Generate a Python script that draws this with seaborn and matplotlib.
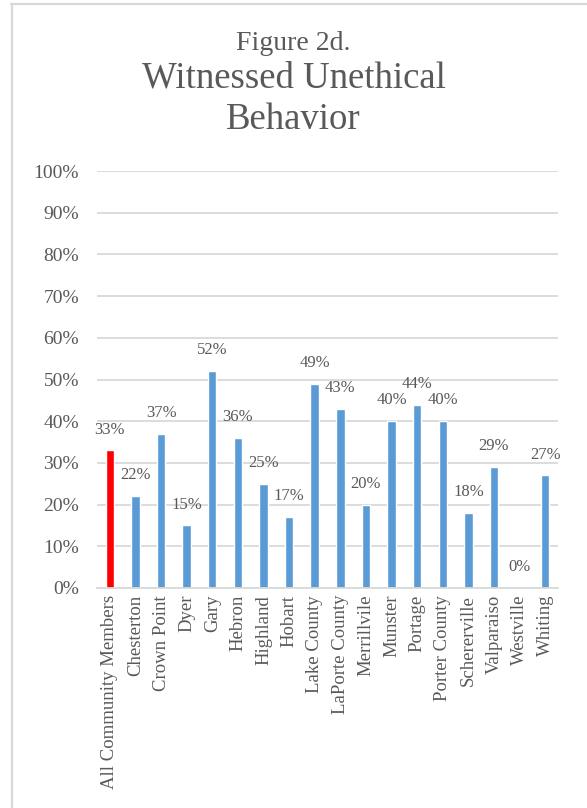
import matplotlib
matplotlib.use("Agg")
import matplotlib.pyplot as plt
from matplotlib.lines import Line2D
from matplotlib.ticker import FuncFormatter, MultipleLocator
import seaborn as sns
import pandas as pd

categories = ["All Community Members", "Chesterton", "Crown Point", "Dyer", "Gary",
              "Hebron", "Highland", "Hobart", "Lake County", "LaPorte County",
              "Merrillvile", "Munster", "Portage", "Porter County", "Schererville",
              "Valparaiso", "Westville", "Whiting"]
values = [33, 22, 37, 15, 52, 36, 25, 17, 49, 43, 20, 40, 44, 40, 18, 29, 0, 27]

title_top = "Figure 2d."
title_line1 = "Witnessed Unethical"
title_line2 = "Behavior"

BLUE = "#5B9BD5"
RED = "#FF0000"
TEXT = "#595959"
GRID = "#D9D9D9"

sns.set_theme(style="white")
plt.rcParams["font.family"] = ["Liberation Serif", "DejaVu Serif"]

df = pd.DataFrame({"category": categories, "value": values})
palette = {c: (RED if i == 0 else BLUE) for i, c in enumerate(categories)}

W, H = 587, 808
fig = plt.figure(figsize=(W / 100, H / 100), dpi=100)
ax = fig.add_axes([97 / W, (H - 588) / H, (558 - 97) / W, (588 - 171) / H])

sns.barplot(data=df, x="category", y="value", hue="category", palette=palette,
            width=0.33, legend=False, ax=ax, saturation=1)

ax.set_ylim(0, 100)
ax.yaxis.set_major_locator(MultipleLocator(10))
ax.yaxis.set_major_formatter(FuncFormatter(lambda v, _: f"{v:.0f}%"))
ax.grid(axis="y", color=GRID, linewidth=1.3)
ax.set_axisbelow(True)
for side in ("top", "right", "left"):
    ax.spines[side].set_visible(False)
ax.spines["bottom"].set_color(GRID)
ax.spines["bottom"].set_linewidth(1.3)
ax.set_xlabel("")
ax.set_ylabel("")
ax.tick_params(axis="y", length=0, labelsize=14, labelcolor=TEXT, pad=13)
ax.tick_params(axis="x", length=0, labelsize=13.5, labelcolor=TEXT, rotation=90, pad=5)
ax.set_xlim(-0.5, len(categories) - 0.5)

for i, v in enumerate(values):
    ax.annotate(f"{v}%", xy=(i, v), xytext=(0, 15), textcoords="offset points",
                ha="center", va="center", fontsize=12, color=TEXT)

fig.text(0.5, 1 - 50 / H, title_top, ha="center", va="baseline", fontsize=20, color=TEXT)
fig.text(0.5, 1 - 88 / H, title_line1, ha="center", va="baseline", fontsize=26.5, color=TEXT)
fig.text(0.5, 1 - 129 / H, title_line2, ha="center", va="baseline", fontsize=26.5, color=TEXT)

# Frame edges of the chart area
fig.add_artist(Line2D([11 / W, 1], [1 - 4 / H, 1 - 4 / H], color=GRID, linewidth=1.6,
                      transform=fig.transFigure))
fig.add_artist(Line2D([12 / W, 12 / W], [0, 1 - 4 / H], color=GRID, linewidth=1.6,
                      transform=fig.transFigure))

fig.savefig("out.png", dpi=100)
